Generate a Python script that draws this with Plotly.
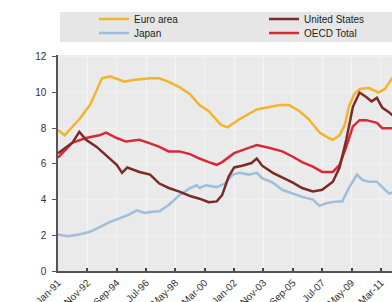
import plotly.graph_objects as go

# ---- data ----
euro_dates = ["1991-01", "1991-06", "1992-05", "1993-01", "1993-10", "1994-04", "1995-03", "1995-09",
              "1996-10", "1997-05", "1997-12", "1998-08", "1999-04", "1999-11", "2000-06", "2000-10",
              "2001-03", "2001-08", "2002-05", "2003-06", "2004-11", "2005-06", "2006-02", "2006-09",
              "2007-05", "2007-12", "2008-03", "2008-08", "2008-12", "2009-03", "2009-07", "2009-11",
              "2010-06", "2011-01", "2011-06", "2011-12"]
euro_vals = [7.9, 7.6, 8.5, 9.3, 10.8, 10.9, 10.6, 10.7,
             10.8, 10.8, 10.6, 10.3, 9.9, 9.3, 8.95, 8.6,
             8.2, 8.05, 8.5, 9.05, 9.3, 9.3, 8.95, 8.5,
             7.75, 7.45, 7.35, 7.6, 8.2, 9.2, 9.9, 10.2,
             10.25, 10.0, 10.2, 10.85]

us_dates = ["1991-01", "1991-08", "1991-12", "1992-05", "1992-10", "1993-06", "1994-01", "1994-09",
            "1995-01", "1995-05", "1996-02", "1996-10", "1997-05", "1997-12", "1998-08", "1999-04",
            "1999-11", "2000-06", "2000-12", "2001-04", "2001-09", "2002-01", "2002-07", "2003-02",
            "2003-06", "2003-10", "2004-06", "2005-01", "2005-09", "2006-04", "2006-12", "2007-07",
            "2008-03", "2008-08", "2009-01", "2009-06", "2009-11", "2010-04", "2010-08", "2010-12",
            "2011-04", "2011-09", "2011-12"]
us_vals = [6.6, 7.0, 7.2, 7.8, 7.35, 6.95, 6.5, 5.95,
           5.5, 5.8, 5.55, 5.4, 4.9, 4.65, 4.45, 4.2,
           4.05, 3.85, 3.9, 4.25, 5.3, 5.8, 5.9, 6.05,
           6.3, 5.9, 5.5, 5.25, 4.95, 4.65, 4.45, 4.55,
           5.0, 5.8, 7.35, 9.2, 10.0, 9.75, 9.5, 9.7,
           9.15, 8.9, 8.7]

oecd_dates = ["1991-01", "1991-12", "1992-10", "1993-08", "1994-01", "1994-09", "1995-04", "1996-02",
              "1996-10", "1997-05", "1997-12", "1998-08", "1999-04", "1999-11", "2000-06", "2000-12",
              "2001-04", "2002-01", "2002-12", "2003-06", "2004-03", "2005-01", "2005-09", "2006-04",
              "2006-12", "2007-07", "2008-03", "2008-08", "2009-01", "2009-06", "2009-11", "2010-04",
              "2010-12", "2011-04", "2011-12"]
oecd_vals = [6.35, 7.2, 7.45, 7.6, 7.75, 7.45, 7.25, 7.35,
             7.15, 6.95, 6.7, 6.7, 6.55, 6.3, 6.1, 5.95,
             6.1, 6.6, 6.9, 7.05, 6.9, 6.7, 6.4, 6.1,
             5.85, 5.55, 5.55, 5.95, 6.95, 8.1, 8.45, 8.45,
             8.3, 8.0, 8.0]

japan_dates = ["1991-01", "1991-08", "1992-05", "1993-01", "1993-08", "1994-04", "1994-11", "1995-06",
               "1995-12", "1996-06", "1996-10", "1997-05", "1997-12", "1998-08", "1999-04", "1999-09",
               "1999-11", "2000-04", "2000-12", "2001-06", "2001-12", "2002-05", "2002-12", "2003-06",
               "2003-10", "2004-06", "2005-01", "2005-09", "2006-04", "2006-12", "2007-05", "2007-10",
               "2008-06", "2008-10", "2009-03", "2009-09", "2010-01", "2010-06", "2010-12", "2011-04",
               "2011-09", "2011-12"]
japan_vals = [2.05, 1.95, 2.05, 2.2, 2.45, 2.75, 2.95, 3.15,
              3.4, 3.25, 3.3, 3.35, 3.7, 4.25, 4.65, 4.8,
              4.65, 4.8, 4.7, 4.9, 5.4, 5.5, 5.4, 5.5,
              5.2, 4.95, 4.55, 4.35, 4.15, 4.0, 3.65, 3.8,
              3.9, 3.9, 4.65, 5.4, 5.1, 5.0, 5.0, 4.7,
              4.35, 4.4]

y_ticks = [0, 2, 4, 6, 8, 10, 12]

FONT = "Liberation Sans, Arial, sans-serif"
W, H = 392, 302
ML, MR, MT, MB = 58, 0, 55, 31
PW, PH = W - ML - MR, H - MT - MB


def px_x(x):
    return (x - ML) / PW


def px_y(y):
    return (H - MB - y) / PH


fig = go.Figure()
series = [
    ("Japan", japan_dates, japan_vals, "#9fbedc", "legend3"),
    ("Euro area", euro_dates, euro_vals, "#f1b42a", "legend"),
    ("OECD Total", oecd_dates, oecd_vals, "#d9283a", "legend4"),
    ("United States", us_dates, us_vals, "#7b2b27", "legend2"),
]
for name, d, v, c, lg in series:
    fig.add_trace(go.Scatter(x=d, y=v, name=name, mode="lines",
                             line=dict(color=c, width=2.5), legend=lg))

leg_common = dict(bgcolor="rgba(0,0,0,0)", font=dict(family=FONT, size=10, color="#222222"),
                  xanchor="left", yanchor="middle", orientation="v")
fig.update_layout(
    legend=dict(x=px_x(94), y=px_y(19), **leg_common),
    legend2=dict(x=px_x(264), y=px_y(19), **leg_common),
    legend3=dict(x=px_x(94), y=px_y(33), **leg_common),
    legend4=dict(x=px_x(264), y=px_y(33), **leg_common),
)

fig.add_shape(type="rect", xref="paper", yref="paper",
              x0=px_x(60), x1=px_x(400), y0=px_y(42), y1=px_y(12),
              fillcolor="#e6e6e6", line=dict(width=0), layer="below")

fig.update_layout(
    width=W, height=H,
    margin=dict(l=ML, r=MR, t=MT, b=MB, autoexpand=False),
    paper_bgcolor="white",
    plot_bgcolor="#eaeaea",
    showlegend=True,
    font=dict(family=FONT, size=10, color="#333333"),
    xaxis=dict(
        type="date",
        range=["1991-01-01", "2011-11-10"],
        tick0="1991-01-01", dtick="M22", tickformat="%b-%y",
        tickangle=-45, ticks="inside", ticklen=3, tickwidth=2, tickcolor="#444444",
        showline=True, linecolor="#555555", linewidth=2,
        showgrid=True, gridcolor="#f4f4f4", gridwidth=1,
        zeroline=False, automargin=False,
        tickfont=dict(family=FONT, size=10, color="#333333"),
    ),
    yaxis=dict(
        range=[0, 12.1], tickvals=y_ticks,
        ticks="outside", ticklen=4, tickcolor="#555555",
        showline=True, linecolor="#555555", linewidth=1.5,
        showgrid=True, gridcolor="#f0f0f0", gridwidth=1,
        zeroline=False, automargin=False,
        tickfont=dict(family=FONT, size=10, color="#333333"),
        ticklabelstandoff=4,
    ),
)

fig.write_html(
    "out.html",
    config={"displayModeBar": False},
    post_script="document.body.style.margin='0px';document.documentElement.style.overflow='hidden';document.body.style.overflow='hidden';",
)
